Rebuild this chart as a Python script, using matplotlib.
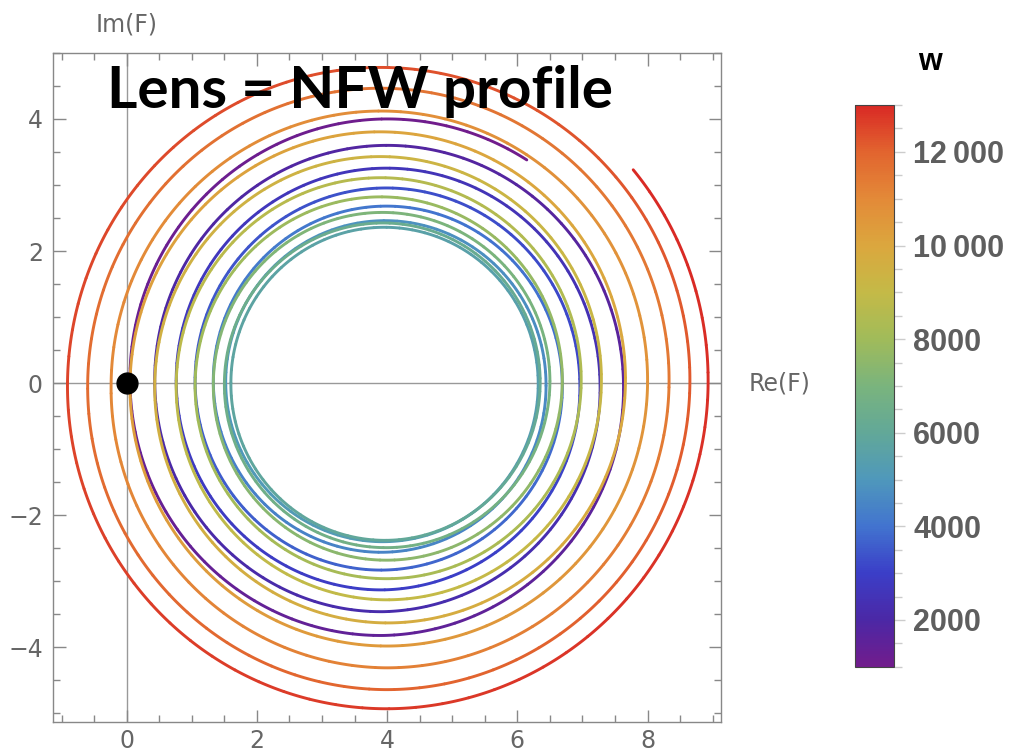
import numpy as np
import matplotlib
matplotlib.use("Agg")
import matplotlib.pyplot as plt
from matplotlib.collections import LineCollection
from matplotlib.colors import LinearSegmentedColormap, Normalize
from matplotlib.ticker import MultipleLocator

# Radius of the spiral around its centre at the
# quarter-turn crossings (w value, radius)
w_nodes = [1000, 1069, 1257, 1445, 1633, 2009, 2197, 2385, 2761, 2949,
           3137, 3514, 3701, 3890, 4266, 4454, 4642, 5018, 5206, 5394,
           5770, 5958, 6146, 6523, 6710, 6899, 7275, 7463, 7651, 8027,
           8215, 8403, 8779, 8967, 9155, 9532, 9720, 9908, 10284, 10472,
           10660, 11036, 11224, 11412, 11788, 11976, 12164, 12540, 12729,
           12917, 13000]
r_nodes = [4.03, 4.00, 3.90, 3.82, 3.68, 3.52, 3.46, 3.32, 3.19, 3.13,
           3.01, 2.90, 2.83, 2.74, 2.62, 2.56, 2.49, 2.43, 2.40, 2.37,
           2.35, 2.38, 2.40, 2.45, 2.49, 2.55, 2.62, 2.68, 2.74, 2.90,
           2.96, 3.03, 3.19, 3.28, 3.34, 3.52, 3.63, 3.71, 3.90, 3.98,
           4.05, 4.19, 4.31, 4.38, 4.55, 4.64, 4.70, 4.86, 4.93,
           4.98, 5.01]
centre = (3.95, 0.0)
start_angle = 57.0      # degrees, where w = 1000 starts
w_per_turn = 752.2      # counter-clockwise

# Mathematica "Rainbow" colours sampled from the legend
rainbow = ["#711c8c", "#4b28a6", "#3b3fc8", "#4274cf", "#4f98bb", "#62a898",
           "#7ab47d", "#a0bb5a", "#c4ba47", "#dba73e", "#e38a38", "#e2652f",
           "#d92a25"]
cmap = LinearSegmentedColormap.from_list("rainbow", rainbow)
norm = Normalize(1000, 13000)

w = np.linspace(1000, 13000, 9601)
r = np.interp(w, w_nodes, r_nodes)
th = np.deg2rad(start_angle + (w - 1000) * 360.0 / w_per_turn)
x = centre[0] + r * np.cos(th)
y = centre[1] + r * np.sin(th)

fig = plt.figure(figsize=(10.10, 7.56), dpi=100)
ax = fig.add_axes([0.052, 0.045, 0.662, 0.885])

# short overlapping polylines so the colour changes smoothly along the curve
step = 8
paths, wmid = [], []
for i in range(0, len(w) - 1, step):
    j = min(i + step + 1, len(w))
    paths.append(np.column_stack([x[i:j], y[i:j]]))
    wmid.append(w[i:j].mean())
lc = LineCollection(paths, cmap=cmap, norm=norm, linewidth=2.1,
                    capstyle="round", joinstyle="round")
lc.set_array(np.array(wmid))
ax.add_collection(lc)

ax.axhline(0, color="#999999", lw=1.0, zorder=0)
ax.axvline(0, color="#999999", lw=1.0, zorder=0)
ax.plot([0], [0], "o", color="black", ms=15, zorder=5)

ax.set_xlim(-1.14, 9.13)
ax.set_ylim(-5.13, 5.0)
ax.set_xticks([0, 2, 4, 6, 8])
ax.set_yticks([-4, -2, 0, 2, 4])
ax.set_yticklabels(["\u22124", "\u22122", "0", "2", "4"])
ax.xaxis.set_minor_locator(MultipleLocator(0.5))
ax.yaxis.set_minor_locator(MultipleLocator(0.5))
ax.tick_params(which="both", direction="in", top=True, right=True,
               color="#888888", width=1.0, labelsize=17, labelcolor="#666666")
ax.tick_params(which="major", length=9)
ax.tick_params(which="minor", length=5)
ax.tick_params(axis="x", pad=5)
ax.tick_params(axis="y", pad=7)
for s in ax.spines.values():
    s.set_color("#888888")
    s.set_linewidth(1.0)

ax.text(0.0, 5.25, "Im(F)", fontsize=17, color="#666666", ha="center", va="bottom")
ax.text(9.55, 0.0, "Re(F)", fontsize=17, color="#666666", ha="left", va="center",
        clip_on=False)
ax.text(-0.3, 4.42, "Lens = NFW profile", fontsize=42, fontweight="bold",
        family=["Lato", "DejaVu Sans"], color="black", ha="left", va="center")

# colour legend
cax = fig.add_axes([0.847, 0.118, 0.038, 0.743])
cb = fig.colorbar(plt.cm.ScalarMappable(norm=norm, cmap=cmap), cax=cax)
cb.outline.set_edgecolor("#444444")
cb.outline.set_linewidth(0.8)
cb.set_ticks([2000, 4000, 6000, 8000, 10000, 12000])
cb.set_ticklabels(["2000", "4000", "6000", "8000", "10\u2009000", "12\u2009000"])
cax.yaxis.set_minor_locator(MultipleLocator(500))
cax.tick_params(which="both", color="#cccccc", width=1.0, labelsize=22,
                labelcolor="#5e5e5e", pad=6)
cax.tick_params(which="major", length=8)
cax.tick_params(which="minor", length=6)
for lab in cax.get_yticklabels():
    lab.set_fontweight("bold")
    lab.set_family(["Liberation Sans", "DejaVu Sans"])
fig.text(0.921, 0.918, "w", fontsize=22, fontweight="bold", ha="center",
         va="center", family=["Liberation Sans", "DejaVu Sans"])

fig.savefig("out.png", dpi=100)
